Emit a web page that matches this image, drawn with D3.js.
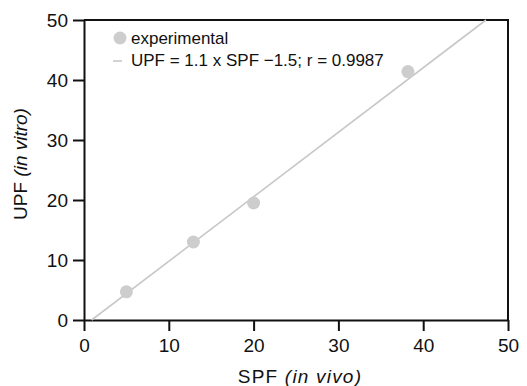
<!DOCTYPE html>
<html>
<head>
<meta charset="utf-8">
<script src="https://cdn.jsdelivr.net/npm/d3@7"></script>
<style>
  body { margin: 0; background: #fff; }
  svg text { font-family: "Liberation Sans", Arial, sans-serif; fill: #111; }
</style>
</head>
<body>
<div id="chart"></div>
<script>
// experimental points (SPF in vivo vs UPF in vitro)
const spf = [5, 12.9, 20, 38.2];
const upf = [4.7, 13, 19.5, 41.4];
// fitted line end points
const fitX = [0.9, 47.4];
const fitY = [0, 50];
const xTicks = [0, 10, 20, 30, 40, 50];
const yTicks = [0, 10, 20, 30, 40, 50];
const legendLabels = ['experimental', 'UPF = 1.1 x SPF \u22121.5; r = 0.9987'];

const margin = { top: 20, right: 19, bottom: 66, left: 84 };
const width = 527 - margin.left - margin.right;
const height = 386 - margin.top - margin.bottom;

const svg = d3.select('#chart').append('svg')
  .attr('width', 527)
  .attr('height', 386);

const chart = svg.append('g')
  .attr('transform', `translate(${margin.left}, ${margin.top})`);

const xScale = d3.scaleLinear().domain([0, 50]).range([0, width]);
const yScale = d3.scaleLinear().domain([0, 50]).range([height, 0]);

// frame (top + right)
chart.append('path')
  .attr('d', `M0,0H${width}V${height}`)
  .attr('fill', 'none')
  .attr('stroke', '#111')
  .attr('stroke-width', 2);

const xAxis = chart.append('g')
  .attr('class', 'axis axis-x')
  .attr('transform', `translate(0, ${height})`)
  .call(d3.axisBottom(xScale).tickValues(xTicks).tickSize(11).tickPadding(8).tickSizeOuter(0));
const yAxis = chart.append('g')
  .attr('class', 'axis axis-y')
  .call(d3.axisLeft(yScale).tickValues(yTicks).tickSize(11).tickPadding(5).tickSizeOuter(0));

[xAxis, yAxis].forEach(ax => {
  ax.select('.domain').attr('stroke', '#111').attr('stroke-width', 2);
  ax.selectAll('.tick line').attr('stroke', '#111').attr('stroke-width', 2);
  ax.selectAll('.tick text')
    .attr('font-family', '"Liberation Sans", Arial, sans-serif')
    .attr('font-size', 19)
    .attr('fill', '#111');
});

// fit line
chart.append('line')
  .attr('x1', xScale(fitX[0]))
  .attr('y1', yScale(fitY[0]))
  .attr('x2', xScale(fitX[1]))
  .attr('y2', yScale(fitY[1]))
  .style('stroke', '#c8c8c8')
  .style('stroke-width', 1.6);

// points
chart.selectAll('circle.nodes')
  .data(spf)
  .enter()
  .append('circle')
  .attr('class', 'nodes')
  .attr('cx', d => xScale(d))
  .attr('cy', (d, i) => yScale(upf[i]))
  .attr('r', 6.5)
  .attr('fill', '#cdcdcd');

// legend
const legend = chart.append('g').attr('transform', 'translate(36, 18)');
legend.append('circle')
  .attr('cx', 0).attr('cy', 0).attr('r', 6.5).attr('fill', '#cdcdcd');
legend.append('line')
  .attr('x1', -7).attr('x2', 2).attr('y1', 23).attr('y2', 23)
  .style('stroke', '#c8c8c8').style('stroke-width', 1.6);
legend.selectAll('text')
  .data(legendLabels)
  .enter()
  .append('text')
  .attr('x', 11)
  .attr('y', (d, i) => 6 + i * 22)
  .attr('font-size', 17)
  .text(d => d);

// axis titles
const xt = svg.append('text')
  .attr('x', 300)
  .attr('y', 383)
  .attr('text-anchor', 'middle')
  .attr('font-size', 19)
  .style('letter-spacing', '1.2px');
xt.append('tspan').text('SPF ');
xt.append('tspan').attr('font-style', 'italic').text('(in vivo)');

const yt = svg.append('text')
  .attr('transform', `translate(27, 164) rotate(-90)`)
  .attr('text-anchor', 'middle')
  .attr('font-size', 19);
yt.append('tspan').text('UPF ');
yt.append('tspan').attr('font-style', 'italic').text('(in vitro)');
</script>
</body>
</html>
